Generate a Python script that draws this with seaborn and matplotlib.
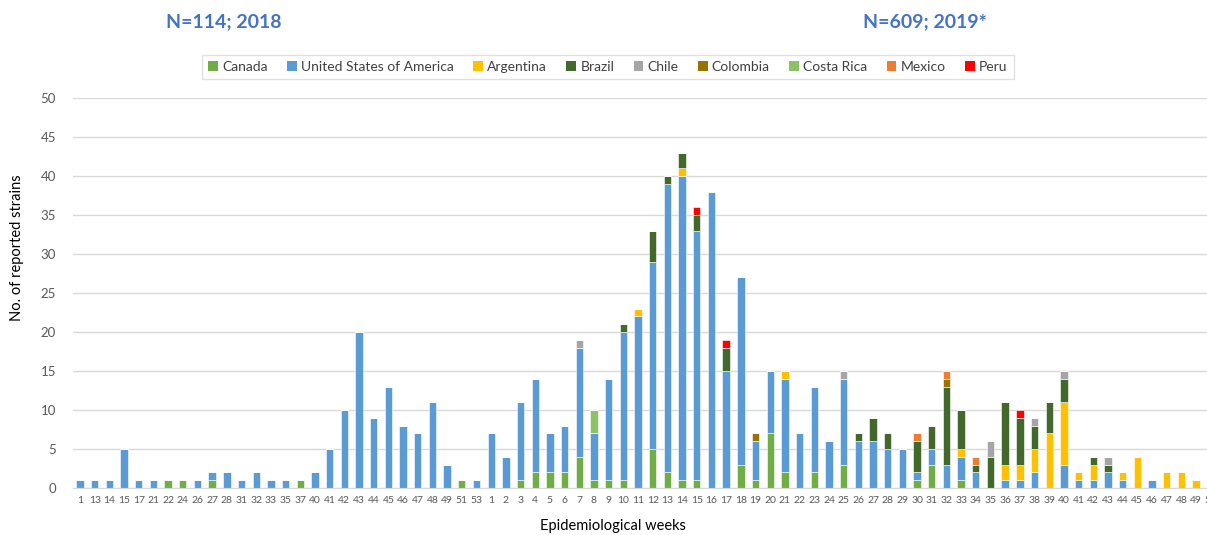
# Reported strains by epidemiological week, 2018-2019

import pandas as pd
import matplotlib
matplotlib.use("Agg")
import matplotlib.pyplot as plt
from matplotlib.patches import Patch
import seaborn as sns

# --- Data ---

weeks_2018 = [1, 13, 14, 15, 17, 21, 22, 24, 26, 27, 28, 31, 32, 33, 35, 37,
              40, 41, 42, 43, 44, 45, 46, 47, 48, 49, 51, 53]
weeks_2019 = list(range(1, 51))

canada_2018 = [0, 0, 0, 0, 0, 0, 1, 1, 0, 1, 0, 0, 0, 0, 0, 1,
               0, 0, 0, 0, 0, 0, 0, 0, 0, 0, 1, 0]
usa_2018 = [1, 1, 1, 5, 1, 1, 0, 0, 1, 1, 2, 1, 2, 1, 1, 0,
            2, 5, 10, 20, 9, 13, 8, 7, 11, 3, 0, 1]

# 2019, weeks 1-50 (ten per row)
canada_2019 = [0, 0, 1, 2, 2, 2, 4, 1, 1, 1,
               0, 5, 2, 1, 1, 0, 0, 3, 1, 7,
               2, 0, 2, 0, 3, 0, 0, 0, 0, 1,
               3, 0, 1, 0, 0, 0, 0, 0, 0, 0,
               0, 0, 0, 0, 0, 0, 0, 0, 0, 0]
usa_2019 = [7, 4, 10, 12, 5, 6, 14, 6, 13, 19,
            22, 24, 37, 39, 32, 38, 15, 24, 5, 8,
            12, 7, 11, 6, 11, 6, 6, 5, 5, 1,
            2, 3, 3, 2, 0, 1, 1, 2, 0, 3,
            1, 1, 2, 1, 0, 1, 0, 0, 0, 0]
argentina_2019 = [0, 0, 0, 0, 0, 0, 0, 0, 0, 0,
                  1, 0, 0, 1, 0, 0, 0, 0, 0, 0,
                  1, 0, 0, 0, 0, 0, 0, 0, 0, 0,
                  0, 0, 1, 0, 0, 2, 2, 3, 7, 8,
                  1, 2, 0, 1, 4, 0, 2, 2, 1, 0]
brazil_2019 = [0, 0, 0, 0, 0, 0, 0, 0, 0, 1,
               0, 4, 1, 2, 2, 0, 3, 0, 0, 0,
               0, 0, 0, 0, 0, 1, 3, 2, 0, 4,
               3, 10, 5, 1, 4, 8, 6, 3, 4, 3,
               0, 1, 1, 0, 0, 0, 0, 0, 0, 0]
chile_2019 = [0, 0, 0, 0, 0, 0, 1, 0, 0, 0,
              0, 0, 0, 0, 0, 0, 0, 0, 0, 0,
              0, 0, 0, 0, 1, 0, 0, 0, 0, 0,
              0, 0, 0, 0, 2, 0, 0, 1, 0, 1,
              0, 0, 1, 0, 0, 0, 0, 0, 0, 0]
colombia_2019 = [0, 0, 0, 0, 0, 0, 0, 0, 0, 0,
                 0, 0, 0, 0, 0, 0, 0, 0, 1, 0,
                 0, 0, 0, 0, 0, 0, 0, 0, 0, 0,
                 0, 1, 0, 0, 0, 0, 0, 0, 0, 0,
                 0, 0, 0, 0, 0, 0, 0, 0, 0, 0]
costa_rica_2019 = [0, 0, 0, 0, 0, 0, 0, 3, 0, 0,
                   0, 0, 0, 0, 0, 0, 0, 0, 0, 0,
                   0, 0, 0, 0, 0, 0, 0, 0, 0, 0,
                   0, 0, 0, 0, 0, 0, 0, 0, 0, 0,
                   0, 0, 0, 0, 0, 0, 0, 0, 0, 0]
mexico_2019 = [0, 0, 0, 0, 0, 0, 0, 0, 0, 0,
               0, 0, 0, 0, 0, 0, 0, 0, 0, 0,
               0, 0, 0, 0, 0, 0, 0, 0, 0, 1,
               0, 1, 0, 1, 0, 0, 0, 0, 0, 0,
               0, 0, 0, 0, 0, 0, 0, 0, 0, 0]
peru_2019 = [0, 0, 0, 0, 0, 0, 0, 0, 0, 0,
             0, 0, 0, 0, 1, 0, 1, 0, 0, 0,
             0, 0, 0, 0, 0, 0, 0, 0, 0, 0,
             0, 0, 0, 0, 0, 0, 1, 0, 0, 0,
             0, 0, 0, 0, 0, 0, 0, 0, 0, 0]

countries = ["Canada", "United States of America", "Argentina", "Brazil",
             "Chile", "Colombia", "Costa Rica", "Mexico", "Peru"]
colors = ["#70AD47", "#5B9BD5", "#FFC000", "#43682B", "#A5A5A5",
          "#997300", "#8CC168", "#ED7D31", "#FF0000"]

# --- Long table ---

n18 = len(weeks_2018)
zeros_2018 = [0] * n18
series = {
    "Canada": canada_2018 + canada_2019,
    "United States of America": usa_2018 + usa_2019,
    "Argentina": zeros_2018 + argentina_2019,
    "Brazil": zeros_2018 + brazil_2019,
    "Chile": zeros_2018 + chile_2019,
    "Colombia": zeros_2018 + colombia_2019,
    "Costa Rica": zeros_2018 + costa_rica_2019,
    "Mexico": zeros_2018 + mexico_2019,
    "Peru": zeros_2018 + peru_2019,
}
tick_labels = [str(w) for w in weeks_2018] + [str(w) for w in weeks_2019]

rows = []
for country, vals in series.items():
    for i, v in enumerate(vals):
        if v > 0:
            rows.append({"pos": i, "country": country, "count": v})
df = pd.DataFrame(rows)

# --- Plot ---

sns.set_style("white")
plt.rcParams["font.family"] = ["Lato", "DejaVu Sans"]

fig = plt.figure(figsize=(12.07, 5.35), dpi=100)
ax = fig.add_axes([0.0602, 0.0879, 0.949, 0.729])

# seaborn stacks the last hue level at the bottom, so reverse the order
sns.histplot(data=df, x="pos", weights="count", hue="country",
             hue_order=countries[::-1], palette=dict(zip(countries, colors)),
             multiple="stack", discrete=True, shrink=0.5, alpha=1,
             edgecolor="white", linewidth=0.4, legend=False, ax=ax)

ax.set_xlim(-0.5, len(tick_labels) - 0.5)
ax.set_ylim(0, 50)
ax.set_yticks(range(0, 51, 5))
ax.set_xticks(range(len(tick_labels)))
ax.set_xticklabels(tick_labels, fontsize=7.5, color="#595959")
ax.tick_params(axis="y", labelsize=9.5, colors="#595959", length=0, pad=12)
ax.tick_params(axis="x", length=0, pad=6)
ax.yaxis.grid(True, color="#d9d9d9", linewidth=1)
ax.set_axisbelow(True)
for side in ["top", "left", "right"]:
    ax.spines[side].set_visible(False)
ax.spines["bottom"].set_color("#d9d9d9")
ax.set_xlabel("")
ax.set_ylabel("")

fig.text(17 / 1207, 1 - 248 / 535, "No. of reported strains", rotation=90,
         ha="center", va="center", fontsize=10.5, color="black")
fig.text(613 / 1207, 1 - 526 / 535, "Epidemiological weeks",
         ha="center", va="center", fontsize=10.5, color="black")

fig.text(224 / 1207, 1 - 22 / 535, "N=114; 2018", ha="center", va="center",
         fontsize=14, fontweight="bold", color="#4472C4")
fig.text(925 / 1207, 1 - 22 / 535, "N=609; 2019*", ha="center", va="center",
         fontsize=14, fontweight="bold", color="#4472C4")

handles = [Patch(facecolor=c, edgecolor="none", label=n)
           for n, c in zip(countries, colors)]
leg = fig.legend(handles=handles, loc="center", ncol=len(countries),
                 bbox_to_anchor=(608 / 1207, 1 - 67 / 535), fontsize=10,
                 frameon=True, fancybox=False, handlelength=0.7,
                 handleheight=0.7, handletextpad=0.3, columnspacing=1.4,
                 borderpad=0.45, labelcolor="#404040")
leg.get_frame().set_edgecolor("#d9d9d9")
leg.get_frame().set_linewidth(1)

fig.savefig("out.png", dpi=100)
